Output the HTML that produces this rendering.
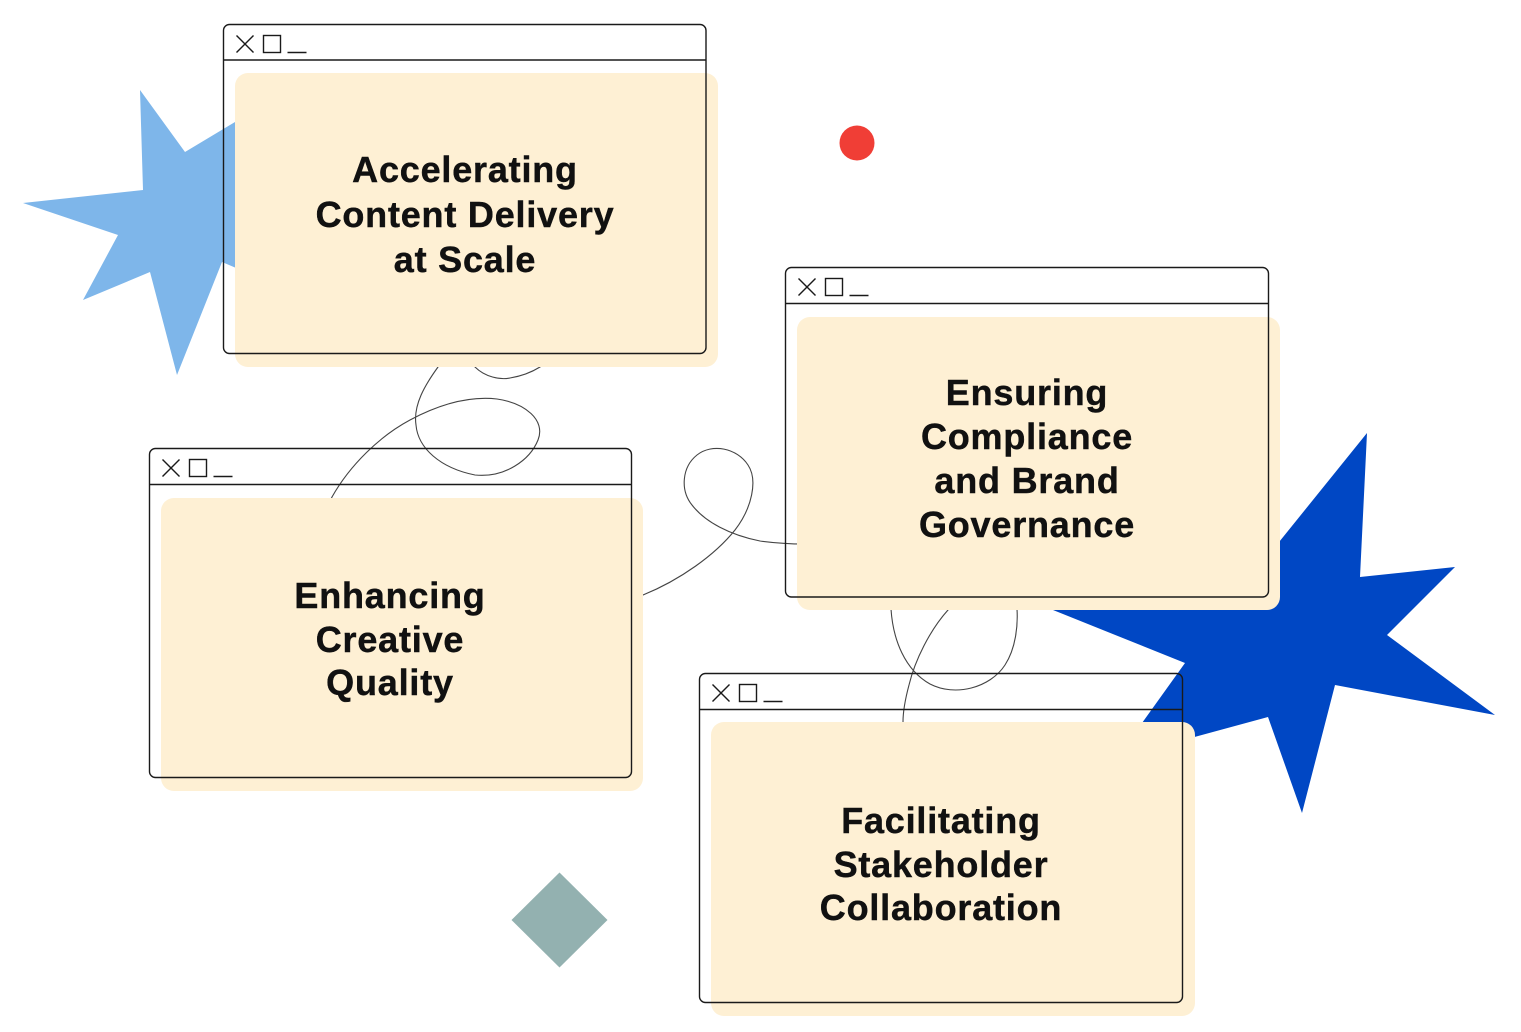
<!DOCTYPE html>
<html>
<head>
<meta charset="utf-8">
<style>
  html,body{margin:0;padding:0;background:#fff;}
  svg{display:block;}
  .t{font-family:"Liberation Sans",Arial,sans-serif;font-weight:bold;font-size:36px;letter-spacing:0.8px;fill:#111;stroke:#111;stroke-width:0.45px;}
</style>
</head>
<body>
<svg width="1521" height="1032" viewBox="0 0 1521 1032" xmlns="http://www.w3.org/2000/svg">
  <!-- Stars -->
  <polygon fill="#7EB6EA" points="140,90 185,152 280,95 260,200 300,295 222,262 177,375 150,272 83,300 118,235 23,203 143,190"/>
  <polygon fill="#0047C4" points="1367,433 1360,577 1455,567 1387,635 1495,715 1335,685 1302,813 1268,717 1117,758 1185,663 1053,610 1250,578"/>

  <!-- Red dot & diamond -->
  <circle cx="857" cy="143" r="17.5" fill="#F03E36"/>
  <polygon fill="#93B1B0" points="559.5,872.5 607.5,920 559.5,967.5 511.5,920"/>

  <!-- Curves -->
  <g fill="none" stroke="#444" stroke-width="1.1">
    <path d="M444,355 L438,367 C425,385 413,405 416,425 C418,448 440,468 475,475 C505,478 530,460 538,440 C546,420 525,403 497,399 C470,396 440,404 410,420 C380,436 350,465 332,497 L328,505"/>
    <path d="M468,360 L475,367 C485,377 500,380 510,378 C522,376 532,372 540,367 L548,360"/>
    <path d="M635,598 L643,595 C680,580 715,555 735,530 C752,508 758,480 748,465 C737,448 712,443 697,455 C682,467 680,490 692,505 C705,522 730,535 760,541 C775,543 790,544 805,544"/>
    <path d="M890,600 L891,609 C893,640 905,670 930,684 C955,697 990,688 1005,665 C1016,648 1018,625 1017,609 L1017,600"/>
    <path d="M955,602 L948,610 C930,630 915,660 909,685 C905,700 903,712 903,722 L903,730"/>
  </g>

  <!-- Cream boxes -->
  <g fill="#FEF0D4">
    <rect x="235" y="73" width="483" height="294" rx="13"/>
    <rect x="161" y="498" width="482" height="293" rx="13"/>
    <rect x="797" y="317" width="483" height="293" rx="13"/>
    <rect x="711" y="722" width="484" height="294" rx="13"/>
  </g>

  <!-- Window frames -->
  <g fill="none" stroke="#1a1a1a" stroke-width="1.4">
    <g transform="translate(223.5,24.5)">
      <rect x="0" y="0" width="482.5" height="329" rx="6"/>
      <line x1="0" y1="35.5" x2="482.5" y2="35.5"/>
      <line x1="13" y1="11" x2="30" y2="28"/><line x1="30" y1="11" x2="13" y2="28"/>
      <rect x="40" y="11" width="17" height="17"/>
      <line x1="64" y1="28" x2="83" y2="28"/>
    </g>
    <g transform="translate(149.5,448.5)">
      <rect x="0" y="0" width="482" height="329" rx="6"/>
      <line x1="0" y1="36" x2="482" y2="36"/>
      <line x1="13" y1="11" x2="30" y2="28"/><line x1="30" y1="11" x2="13" y2="28"/>
      <rect x="40" y="11" width="17" height="17"/>
      <line x1="64" y1="28" x2="83" y2="28"/>
    </g>
    <g transform="translate(785.5,267.5)">
      <rect x="0" y="0" width="483" height="329.5" rx="6"/>
      <line x1="0" y1="36" x2="483" y2="36"/>
      <line x1="13" y1="11" x2="30" y2="28"/><line x1="30" y1="11" x2="13" y2="28"/>
      <rect x="40" y="11" width="17" height="17"/>
      <line x1="64" y1="28" x2="83" y2="28"/>
    </g>
    <g transform="translate(699.5,673.5)">
      <rect x="0" y="0" width="483" height="329" rx="6"/>
      <line x1="0" y1="36" x2="483" y2="36"/>
      <line x1="13" y1="11" x2="30" y2="28"/><line x1="30" y1="11" x2="13" y2="28"/>
      <rect x="40" y="11" width="17" height="17"/>
      <line x1="64" y1="28" x2="83" y2="28"/>
    </g>
  </g>

  <!-- Text -->
  <g class="t" text-anchor="middle">
    <text x="465" y="182">Accelerating</text>
    <text x="465" y="227">Content Delivery</text>
    <text x="465" y="272">at Scale</text>

    <text x="390" y="608">Enhancing</text>
    <text x="390" y="652">Creative</text>
    <text x="390" y="695">Quality</text>

    <text x="1027" y="405">Ensuring</text>
    <text x="1027" y="449">Compliance</text>
    <text x="1027" y="493">and Brand</text>
    <text x="1027" y="537">Governance</text>

    <text x="941" y="833">Facilitating</text>
    <text x="941" y="877">Stakeholder</text>
    <text x="941" y="920">Collaboration</text>
  </g>
</svg>
</body>
</html>
